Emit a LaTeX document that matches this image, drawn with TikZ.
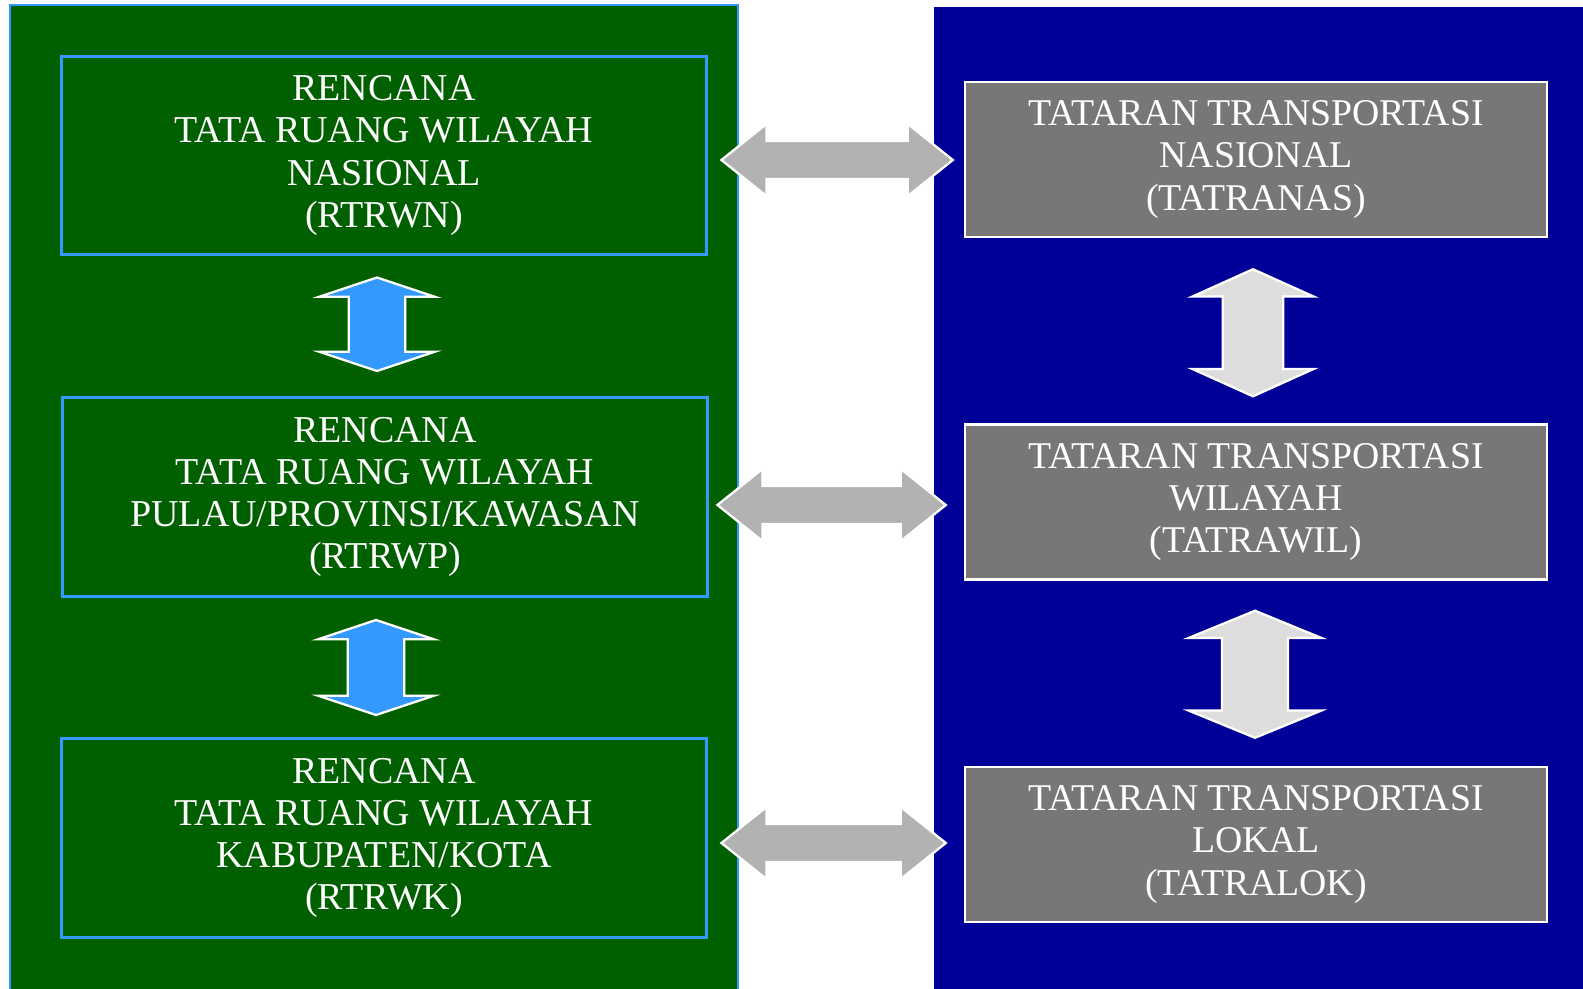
\documentclass[tikz,border=0pt]{standalone}
\usepackage{fontspec}
\setmainfont{Liberation Serif}
\usepackage{tikz}
\usetikzlibrary{calc}

\definecolor{panelgreen}{RGB}{0,96,0}
\definecolor{panelblue}{RGB}{0,0,153}
\definecolor{edgeblue}{RGB}{51,153,255}
\definecolor{boxgray}{RGB}{119,119,119}
\definecolor{linkgray}{RGB}{178,178,178}
\definecolor{stepgray}{RGB}{221,221,221}

\newcommand{\harrowlink}[3]{%
  \draw[#1] (#2) -- ++(45,-36) -- ++(0,17) -- ($(#3)+(-45,-19)$)
    -- ++(0,-17) -- (#3) -- ++(-45,36) -- ++(0,-17)
    -- ($(#2)+(45,19)$) -- ++(0,17) -- cycle;}
\newcommand{\varrowlink}[6]{%
  \draw[#1] (#2) -- ++(#4,#6) -- ++({#5-#4},0) -- ($(#3)+(#5,-#6)$)
    -- ++({#4-#5},0) -- (#3) -- ++(-#4,-#6) -- ++({#4-#5},0)
    -- ($(#2)+(-#5,#6)$) -- ++({#5-#4},0) -- cycle;}

\begin{document}
\begin{tikzpicture}[x=0.02cm,y=-0.02cm,
    tier/.style={draw=edgeblue,line width=1.7pt,fill=panelgreen,text=white,
      minimum width=12.92cm,minimum height=3.98cm,align=center,
      font=\fontsize{21.6}{24}\selectfont},
    level/.style={draw=white,line width=1.4pt,fill=boxgray,text=white,
      minimum width=11.64cm,minimum height=3.1cm,align=center,
      font=\fontsize{21.5}{24}\selectfont},
    sidelink/.style={fill=linkgray,draw=white,line width=1.3pt},
    leftstep/.style={fill=edgeblue,draw=white,line width=1.3pt},
    rightstep/.style={fill=stepgray,draw=white,line width=1.3pt}]
    \useasboundingbox (0,0) rectangle (1583,988);
    \fill[white] (0,0) rectangle (1583,988);
    \draw[fill=panelgreen,draw=edgeblue,line width=1.2pt] (10,5) rectangle (738,995);
    \fill[panelblue] (934,7) rectangle (1583,995);
    \node[tier] (L1) at (384,155.5) {RENCANA\\TATA RUANG WILAYAH\\NASIONAL\\(RTRWN)};
    \node[tier] (L2) at (385,497) {RENCANA\\TATA RUANG WILAYAH\\PULAU/PROVINSI/KAWASAN\\(RTRWP)};
    \node[tier] (L3) at (384,838) {RENCANA\\TATA RUANG WILAYAH\\KABUPATEN/KOTA\\(RTRWK)};
    \node[level] (R1) at (1256,159.5) {TATARAN TRANSPORTASI\\NASIONAL\\(TATRANAS)};
    \node[level] (R2) at (1256,502) {TATARAN TRANSPORTASI\\WILAYAH\\(TATRAWIL)};
    \node[level] (R3) at (1256,844.5) {TATARAN TRANSPORTASI\\LOKAL\\(TATRALOK)};
    \coordinate (v1a) at ($(L1.south)+(-7,21)$);
    \coordinate (v1b) at ($(L2.north)+(-8,-25)$);
    \coordinate (v2a) at ($(L2.south)+(-9,22)$);
    \coordinate (v2b) at ($(L3.north)+(-8,-22)$);
    \coordinate (w1a) at ($(R1.south)+(-3,31)$);
    \coordinate (w1b) at ($(R2.north)+(-3,-27)$);
    \coordinate (w2a) at ($(R2.south)+(-1,30)$);
    \coordinate (w2b) at ($(R3.north)+(-1,-28)$);
    \coordinate (h1a) at ($(L1.east)+(13,4.5)$);
    \coordinate (h1b) at ($(R1.west)+(-11,0.5)$);
    \coordinate (h2a) at ($(L2.east)+(8,8)$);
    \coordinate (h2b) at ($(R2.west)+(-18,3)$);
    \coordinate (h3a) at ($(L3.east)+(13,5)$);
    \coordinate (h3b) at ($(R3.west)+(-18,-1.5)$);
    \varrowlink{leftstep}{v1a}{v1b}{57.5}{28.3}{19.2}
    \varrowlink{leftstep}{v2a}{v2b}{57.5}{28.3}{19.2}
    \varrowlink{rightstep}{w1a}{w1b}{60.6}{30.3}{27.3}
    \varrowlink{rightstep}{w2a}{w2b}{66.6}{33}{27.3}
    \harrowlink{sidelink}{h1a}{h1b}
    \harrowlink{sidelink}{h2a}{h2b}
    \harrowlink{sidelink}{h3a}{h3b}
\end{tikzpicture}
\end{document}
